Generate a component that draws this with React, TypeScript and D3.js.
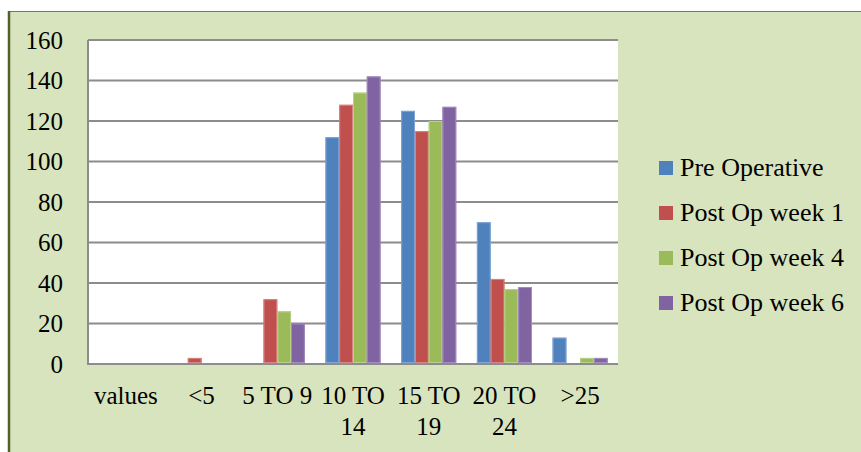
import React from "react";
import * as d3 from "d3";

const categories = ["values", "<5", "5 TO 9", "10 TO 14", "15 TO 19", "20 TO 24", ">25"];
const seriesNames = ["Pre Operative", "Post Op week 1", "Post Op week 4", "Post Op week 6"];
const preOperative = [0, 0, 0, 112, 125, 70, 13];
const postOpWeek1 = [0, 3, 32, 128, 115, 42, 0];
const postOpWeek4 = [0, 0, 26, 134, 120, 37, 3];
const postOpWeek6 = [0, 0, 20, 142, 127, 38, 3];
const yTicks = [0, 20, 40, 60, 80, 100, 120, 140, 160];
const colors = ["#4F81BD", "#C0504D", "#9BBB59", "#8064A2"];
const edgeColors = ["#7FA6D6", "#D98583", "#B9D18A", "#A48CC0"];

const seriesValues = [preOperative, postOpWeek1, postOpWeek4, postOpWeek6];

function wrapLabel(s: string): string[] {
  const parts = s.split(" ");
  if (parts.length === 3 && s.length > 6) return [parts[0] + " " + parts[1], parts[2]];
  return [s];
}

const font = `"Liberation Serif"`;

export default function App() {
  const W = 861, H = 452;
  const plotL = 88, plotR = 618, plotT = 40, plotB = 364;
  const x = d3.scaleBand<string>().domain(categories).range([plotL, plotR]).paddingInner(0).paddingOuter(0);
  const y = d3.scaleLinear().domain([0, 160]).range([plotB, plotT]);
  const step = x.bandwidth();
  const barW = step / 5.5;
  const groupW = barW * 4;
  const xs = d3.scaleBand<number>().domain([0, 1, 2, 3]).range([0, groupW]).padding(0);

  return (
    <svg width={W} height={H} style={{ position: "absolute", left: 0, top: 0 }}>
      <rect x={0} y={0} width={W} height={H} fill="#ffffff" />
      <rect x={8} y={11} width={W - 8} height={H - 11} fill="#D8E4BD" />
      <line x1={8} x2={W} y1={11.5} y2={11.5} stroke="#6F8150" strokeWidth={1.2} />
      <line x1={9} x2={9} y1={11} y2={H} stroke="#4F6228" strokeWidth={2.5} />
      <rect x={plotL} y={plotT} width={plotR - plotL} height={plotB - plotT} fill="#ffffff" />
      {yTicks.map((t) => (
        <line key={"g" + t} x1={plotL} x2={plotR} y1={y(t)} y2={y(t)} stroke="#8C8C8C" strokeWidth={t === 0 ? 2.2 : 1.8} />
      ))}
      <line x1={plotL} x2={plotL} y1={plotT} y2={plotB + 1} stroke="#8C8C8C" strokeWidth={2} />
      {yTicks.map((t) => (
        <text key={"t" + t} x={63} y={y(t) + 8.5} textAnchor="end" fontSize={25} fill="#000" style={{ fontFamily: font }}>{t}</text>
      ))}
      {seriesValues.map((vals, si) =>
        vals.map((v, ci) => {
          if (v <= 0) return null;
          const bx = (x(categories[ci]) as number) + (step - groupW) / 2 + (xs(si) as number);
          const by = y(v);
          return (
            <g key={si + "-" + ci}>
              <rect x={bx} y={by} width={barW} height={plotB - by - 1} fill={colors[si]} />
              <rect x={bx + 0.5} y={by + 0.5} width={barW - 1} height={plotB - by - 2} fill="none" stroke={edgeColors[si]} strokeWidth={1} />
            </g>
          );
        })
      )}
      {categories.map((c) => {
        const cx = (x(c) as number) + step / 2;
        return (
          <text key={"x" + c} textAnchor="middle" fontSize={25} fill="#000" style={{ fontFamily: font }}>
            {wrapLabel(c).map((ln, i) => (
              <tspan key={i} x={cx} y={404 + i * 31}>{ln}</tspan>
            ))}
          </text>
        );
      })}
      {seriesNames.map((n, i) => (
        <g key={"l" + n}>
          <rect x={659} y={161 + i * 45} width={14} height={14} fill={colors[i]} />
          <text x={680} y={176 + i * 45} fontSize={26} fill="#000" style={{ fontFamily: font }}>{n}</text>
        </g>
      ))}
    </svg>
  );
}
